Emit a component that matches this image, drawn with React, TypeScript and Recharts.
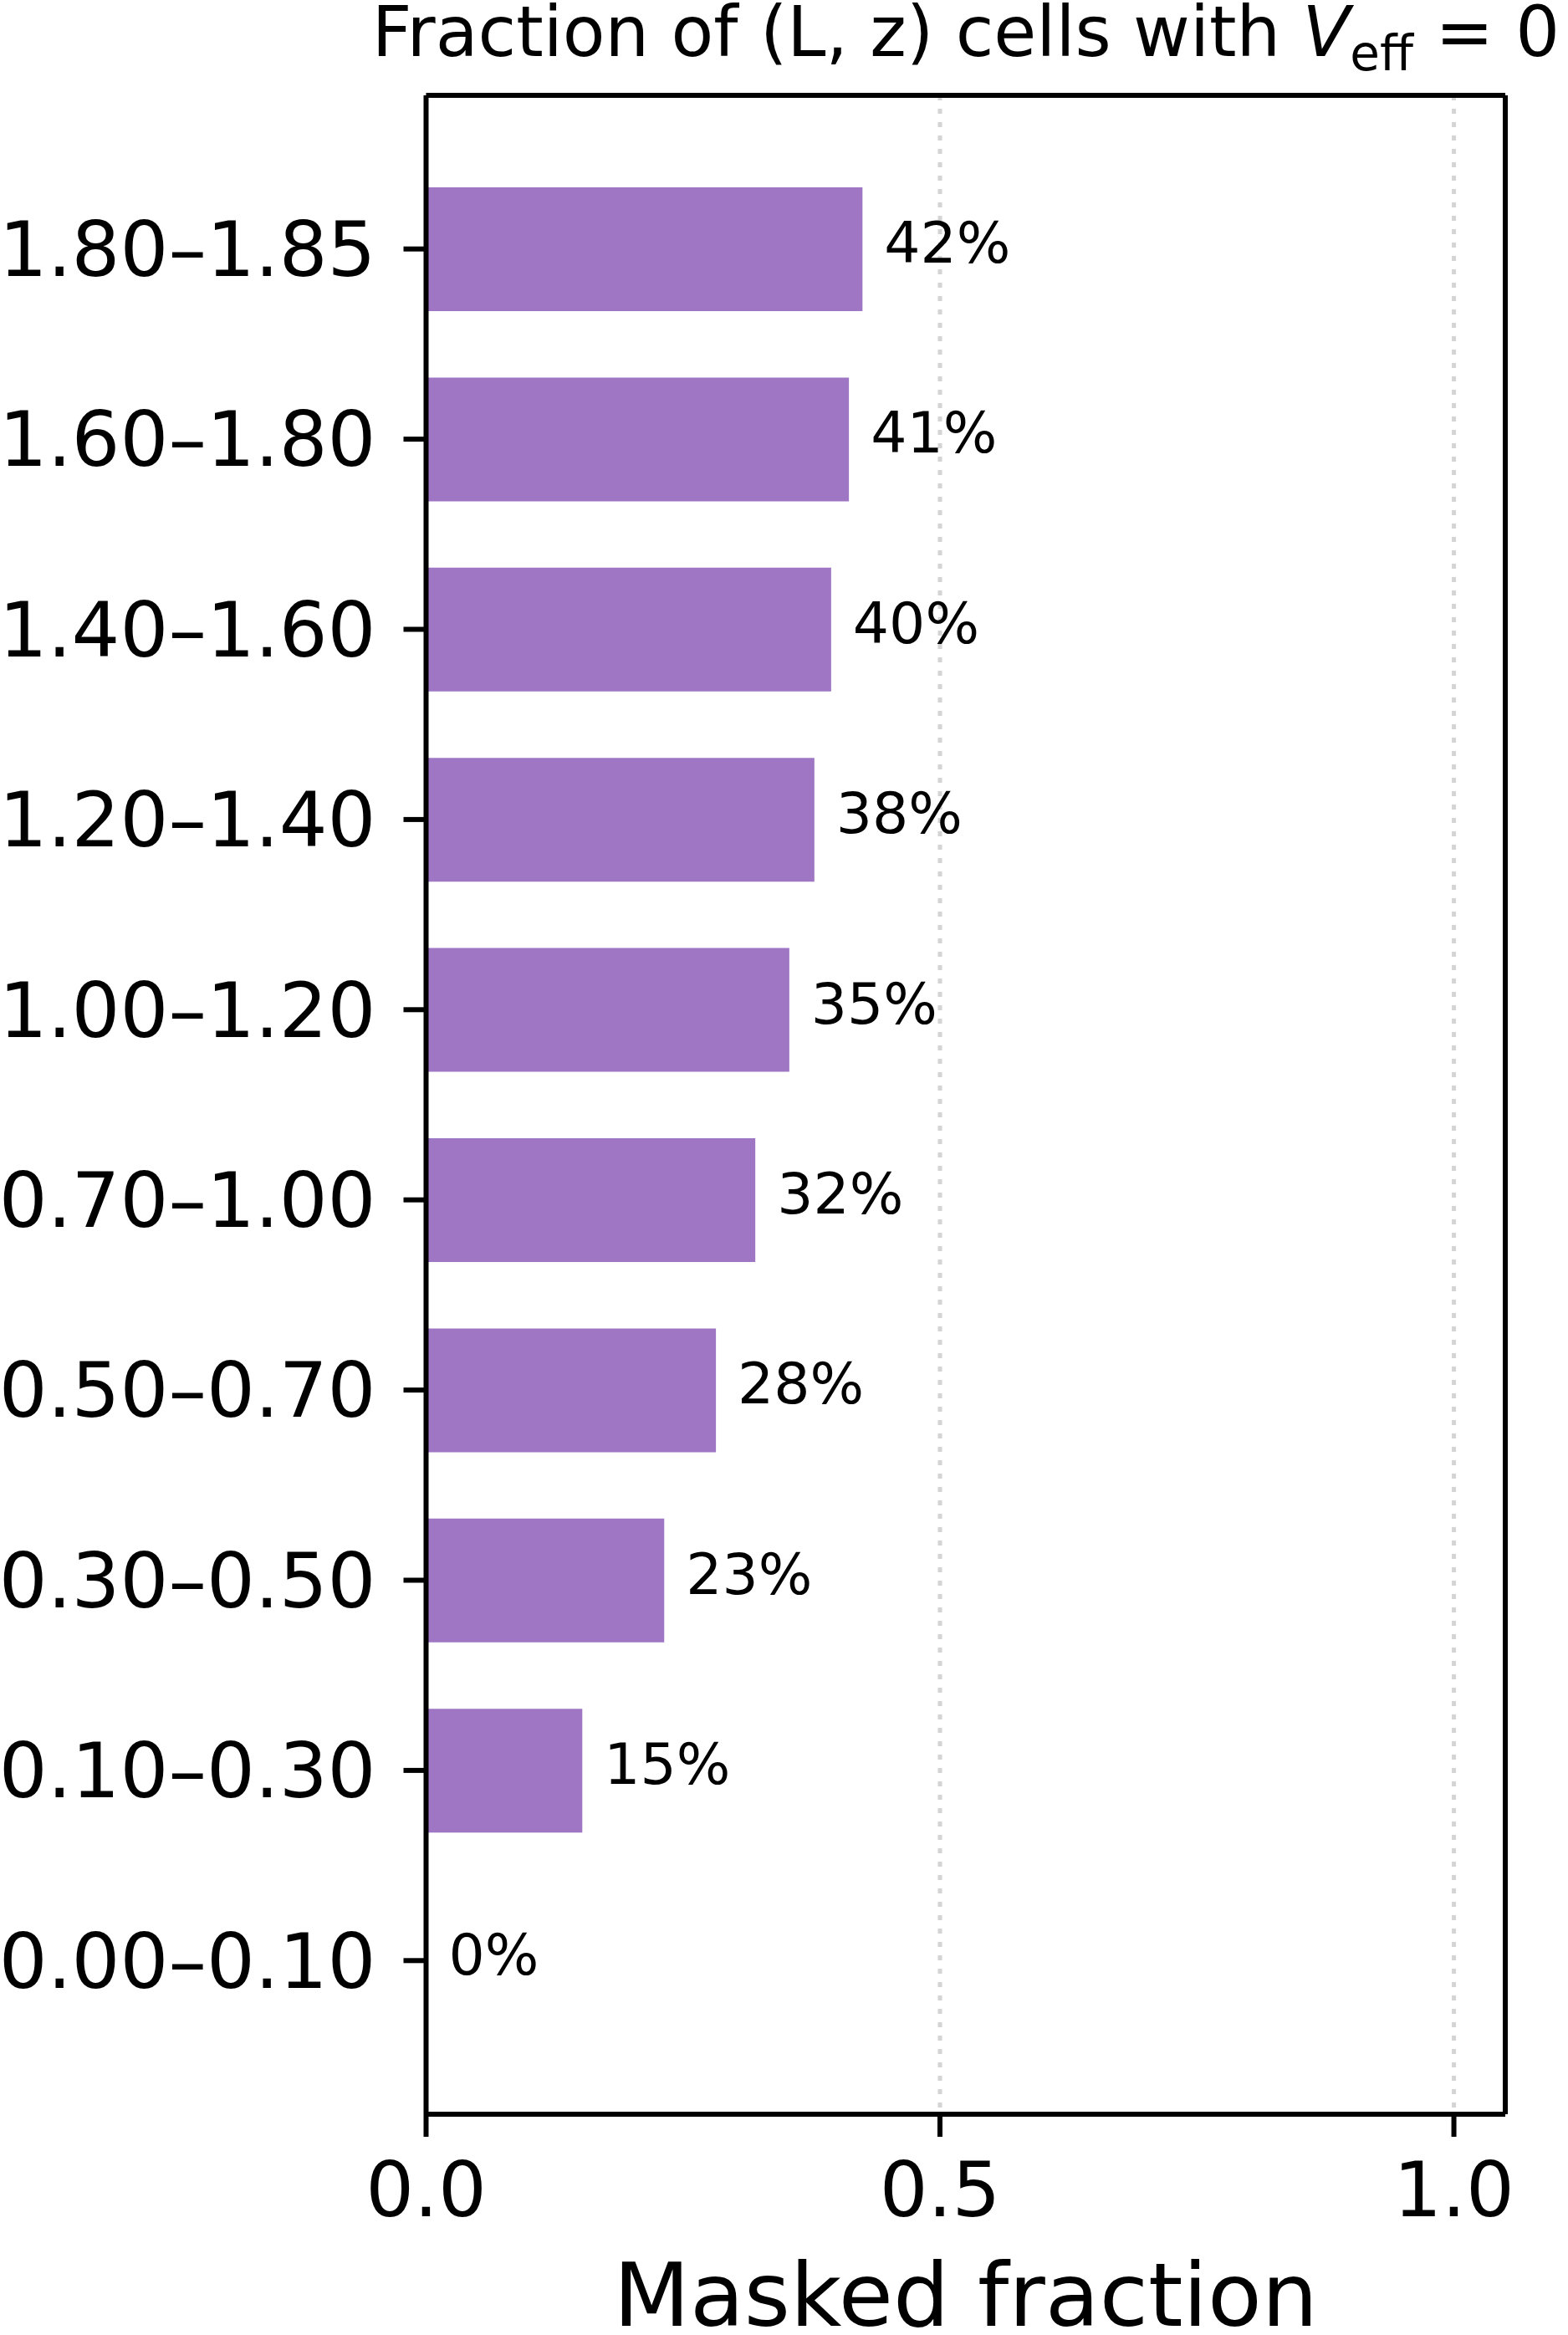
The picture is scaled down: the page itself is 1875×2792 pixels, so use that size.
import React from 'react';
import { BarChart, Bar, XAxis, YAxis, CartesianGrid, LabelList, Label } from 'recharts';

const categories = [
  '1.80–1.85',
  '1.60–1.80',
  '1.40–1.60',
  '1.20–1.40',
  '1.00–1.20',
  '0.70–1.00',
  '0.50–0.70',
  '0.30–0.50',
  '0.10–0.30',
  '0.00–0.10',
];
const maskedFraction = [0.4246, 0.4114, 0.3941, 0.3778, 0.3534, 0.3203, 0.282, 0.2317, 0.152, 0];
const percentLabels = ['42%', '41%', '40%', '38%', '35%', '32%', '28%', '23%', '15%', '0%'];
const xTicks = [0, 0.5, 1.0];
const gridTicks = [0.5, 1.0];
const xDomain = [0, 1.05];

const data = categories.map((c, i) => ({ bin: c, frac: maskedFraction[i], pct: percentLabels[i] }));

const FONT = 'DejaVu Sans';
const W = 1875;
const H = 2792;

const renderPct = (props: any) => {
  const { x, y, width, height, value } = props;
  const tx = Number(x || 0) + Number(width || 0) + 26;
  const ty = Number(y || 0) + Number(height || 0) / 2;
  return (
    <text x={tx} y={ty} dy={16} fill="#000" fontSize={68} fontFamily={FONT} textAnchor="start">
      {value}
    </text>
  );
};

const gridGen = (args: any) => {
  const xAxis = args && args.xAxis;
  if (xAxis && typeof xAxis.scale === 'function') {
    return gridTicks.map((t) => xAxis.scale(t));
  }
  const off = args.offset;
  return gridTicks.map((t) => off.left + ((t - xDomain[0]) / (xDomain[1] - xDomain[0])) * off.width);
};

export default function App() {
  return (
    <div style={{ position: 'absolute', left: 0, top: 0, width: W, height: H, background: '#fff' }}>
      <BarChart
        width={W}
        height={H}
        data={data}
        layout="vertical"
        margin={{ top: 113, right: 74, bottom: 0, left: 0 }}
        barCategoryGap={0}
      >
        <CartesianGrid
          horizontal={false}
          stroke="#d4d4d4"
          strokeWidth={5}
          strokeDasharray="6 10"
          verticalCoordinatesGenerator={gridGen}
        />
        <XAxis
          xAxisId={0}
          type="number"
          dataKey="frac"
          domain={xDomain}
          ticks={xTicks}
          allowDataOverflow
          height={264}
          tickSize={27}
          tickMargin={30}
          tickLine={{ stroke: '#000', strokeWidth: 6 }}
          axisLine={{ stroke: '#000', strokeWidth: 6 }}
          tick={{ fill: '#000', fontSize: 91, fontFamily: FONT }}
          tickFormatter={(v: number) => v.toFixed(1)}
        >
          <Label value="Masked fraction" position="insideBottom" offset={11} fill="#000" fontSize={106} fontFamily={FONT} />
        </XAxis>
        <XAxis
          xAxisId="top"
          orientation="top"
          type="number"
          domain={xDomain}
          ticks={xTicks}
          allowDataOverflow
          height={1}
          tick={false}
          tickLine={false}
          axisLine={{ stroke: '#000', strokeWidth: 6 }}
        />
        <YAxis
          yAxisId={0}
          type="category"
          dataKey="bin"
          width={509.5}
          interval={0}
          padding={{ top: 70, bottom: 70 }}
          tickSize={27}
          tickMargin={33}
          tickLine={{ stroke: '#000', strokeWidth: 6 }}
          axisLine={{ stroke: '#000', strokeWidth: 6 }}
          tick={{ fill: '#000', fontSize: 91, fontFamily: FONT }}
        />
        <YAxis
          yAxisId="right"
          orientation="right"
          type="category"
          dataKey="bin"
          width={1}
          interval={0}
          padding={{ top: 70, bottom: 70 }}
          tick={false}
          tickLine={false}
          axisLine={{ stroke: '#000', strokeWidth: 6 }}
        />
        <Bar
          dataKey="frac"
          xAxisId={0}
          yAxisId={0}
          fill="#9467bd"
          fillOpacity={0.9}
          barSize={148}
          minPointSize={1}
          isAnimationActive={false}
        >
          <LabelList dataKey="pct" content={renderPct} />
        </Bar>
      </BarChart>
      <svg width={W} height={200} style={{ position: 'absolute', left: 0, top: 0, pointerEvents: 'none' }}>
        <text x={1155} y={67} textAnchor="middle" fontFamily={FONT} fontSize={83} fill="#000">
          Fraction of (L, z) cells with <tspan fontStyle="italic">V</tspan>
          <tspan fontSize={58} dy={17}>eff</tspan>
          <tspan dy={-17}> = 0</tspan>
        </text>
      </svg>
    </div>
  );
}
